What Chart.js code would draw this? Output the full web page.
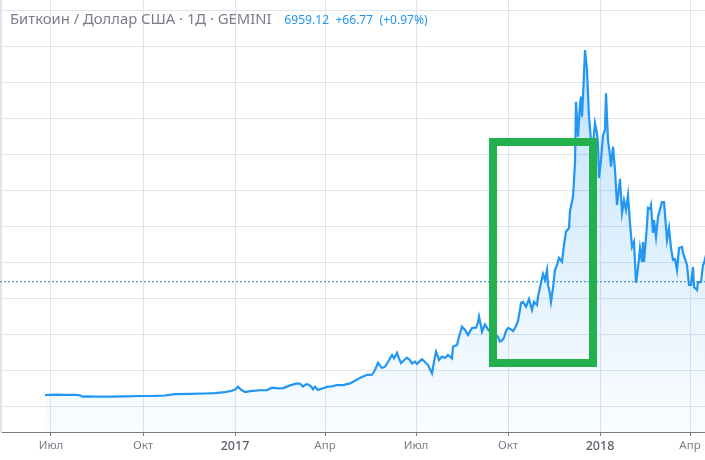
<!DOCTYPE html>
<html>
<head>
<meta charset="utf-8">
<style>
    body { margin: 0; background: #fff; }
    #wrap { position: relative; width: 705px; height: 460px; overflow: hidden; }
    #title { position: absolute; left: 10px; top: 8px; font: 14.8px "Noto Sans", sans-serif; color: #7b7e88; white-space: nowrap; }
    #quote { margin-left: 9px; font-size: 12.1px; color: #2196f3; }
</style>
</head>
<body>
<div id="wrap">
    <div id="title">Биткоин / Доллар США · 1Д · GEMINI <span id="quote">6959.12 &nbsp;+66.77 &nbsp;(+0.97%)</span></div>
    <canvas id="chart" width="705" height="460"></canvas>
</div>
<script src="https://cdn.jsdelivr.net/npm/chart.js@4"></script>
<script>
// days counted from 1 Jul 2016
const days = [
    -6, 4, 14, 24, 29, 32, 34, 44, 59, 74,
    89, 104, 114, 124, 139, 154, 164, 174, 181, 185,
    187, 190, 194, 199, 202, 209, 216, 221, 227, 232,
    239, 246, 249, 252, 255, 257, 260, 262, 264, 267,
    272, 277, 281, 286, 292, 299, 303, 306, 308, 312,
    316, 321, 324, 327, 329, 331, 334, 337, 341, 343,
    346, 348, 350, 353, 356, 359, 361, 364, 366, 369,
    371, 374, 377, 379, 381, 383, 385, 387, 388, 391,
    394, 397, 399, 401, 402, 404, 406, 408, 411, 414,
    417, 419, 421, 425, 427, 428, 430, 431, 434, 437,
    439, 443, 447, 449, 451, 453, 455, 457, 459, 462,
    465, 467, 469, 470, 472, 475, 478, 481, 483, 486,
    487, 490, 492, 494, 496, 497, 499, 500, 502, 504,
    506, 508, 511, 513, 515, 518, 519, 522, 524, 525,
    527, 529, 530, 531, 533, 534, 536, 538, 540, 541,
    544, 546, 547, 548, 550, 552, 554, 555, 557, 559,
    560, 562, 564, 566, 569, 571, 573, 575, 577,
    579, 581, 583, 585, 587, 589, 591, 592, 593, 596,
    597, 599, 600, 602, 603, 605, 607, 611, 613, 616,
    618, 620, 622, 624, 626, 628, 631, 632, 636, 638,
    640, 642, 643, 646, 647, 650, 652, 653, 655
];

const prices = [
    667, 690, 670, 680, 650, 560, 590, 580, 580, 590,
    610, 620, 640, 720, 730, 750, 770, 830, 900, 1000,
    1130, 960, 830, 880, 900, 930, 940, 1070, 1040, 1050,
    1200, 1310, 1290, 1130, 1260, 1260, 1150, 980, 1130, 950,
    1040, 1130, 1150, 1220, 1220, 1310, 1430, 1520, 1590, 1700,
    1780, 1790, 2050, 2460, 2300, 2170, 2240, 2500, 2890, 2700,
    3000, 2700, 2440, 2600, 2740, 2600, 2420, 2520, 2390, 2560,
    2650, 2500, 2330, 2100, 1870, 2500, 3070, 2800, 2610, 2800,
    2720, 2890, 2800, 2700, 3350, 3400, 3440, 3900, 4460, 4280,
    4000, 4200, 4390, 4410, 4700, 5020, 4500, 4180, 4590, 4300,
    4180, 4100, 3900, 3630, 3700, 3850, 4220, 4390, 4350, 4220,
    4500, 4780, 5400, 5780, 5850, 5570, 6000, 5390, 5850, 5670,
    6130, 6900, 7390, 7060, 7610, 6780, 6300, 5850, 6610, 7610,
    7900, 8280, 8070, 9000, 9740, 9940, 10890, 11680, 13550, 16960,
    15020, 16800, 17240, 16130, 18500, 19830, 18720, 16130, 14800, 13910,
    15760, 15200, 14670, 12720, 13720, 15110, 15400, 17430, 14830, 14000,
    13350, 14460, 13170, 11220, 12670, 10780, 11500, 10950, 11780,
    10220, 8890, 9170, 6890, 7720, 8830, 8060, 9170, 8060, 10110,
    11060, 11000, 11220, 9670, 10390, 9450, 10560, 11390, 11390, 9280,
    9950, 8830, 8170, 8220, 7610, 8830, 8890, 8560, 7890, 6780,
    6780, 7780, 6670, 6500, 6940, 6940, 7890, 8000, 8450
];

const tickDays = [0, 92, 184, 274, 365, 457, 549, 639];
const tickLabels = ['Июл', 'Окт', '2017', 'Апр', 'Июл', 'Окт', '2018', 'Апр'];
const yearLabels = ['2017', '2018'];
const priceGrid = [0, 2000, 4000, 6000, 8000, 10000, 12000, 14000, 16000, 18000, 20000, 22000];
const lastPrice = 6959.12;

// green marker drawn over the chart
const boxDays = [442, 542, 542, 442, 442];
const boxPrices = [14722, 14722, 2444, 2444, 14722];

const gridColor = '#e0e3eb';
const lineColor = '#2196f3';

new Chart(document.getElementById('chart'), {
    type: 'line',
    data: {
        datasets: [
            {
                data: boxDays.map((d, i) => ({ x: d, y: boxPrices[i] })),
                borderColor: '#22b14c',
                borderWidth: 8,
                borderJoinStyle: 'miter',
                borderCapStyle: 'square',
                pointRadius: 0,
                order: 0
            },
            {
                data: [{ x: -51, y: lastPrice }, { x: 654, y: lastPrice }],
                borderColor: '#2b7fc4',
                borderWidth: 1,
                borderDash: [2, 2],
                pointRadius: 0,
                order: 2
            },
            {
                data: days.map((d, i) => ({ x: d, y: prices[i] })),
                borderColor: lineColor,
                borderWidth: 2.2,
                pointRadius: 0,
                tension: 0,
                fill: 'start',
                backgroundColor: context => {
                    const area = context.chart.chartArea;
                    if (!area) return 'rgba(33,150,243,0.1)';
                    const gradient = context.chart.ctx.createLinearGradient(0, 50, 0, area.bottom);
                    gradient.addColorStop(0, 'rgba(33,150,243,0.28)');
                    gradient.addColorStop(1, 'rgba(33,150,243,0.02)');
                    return gradient;
                },
                order: 1
            }
        ]
    },
    options: {
        responsive: false,
        animation: false,
        layout: { padding: 0 },
        plugins: { legend: { display: false }, tooltip: { enabled: false } },
        scales: {
            x: {
                type: 'linear',
                min: -51,
                max: 654,
                afterBuildTicks: axis => { axis.ticks = tickDays.map(value => ({ value })); },
                afterFit: axis => { axis.height = 28; },
                border: { color: '#787b86', width: 1 },
                grid: { color: gridColor, tickColor: '#787b86', tickLength: 4 },
                ticks: {
                    maxRotation: 0,
                    autoSkip: false,
                    padding: 3,
                    callback: value => tickLabels[tickDays.indexOf(value)],
                    color: context => yearLabels.includes(tickLabels[context.index]) ? '#5d606b' : '#7b7e88',
                    font: context => ({
                        family: '"Noto Sans", sans-serif',
                        size: yearLabels.includes(tickLabels[context.index]) ? 12.5 : 11.5,
                        weight: yearLabels.includes(tickLabels[context.index]) ? '500' : '400'
                    })
                }
            },
            y: {
                type: 'linear',
                min: -1389,
                max: 22611,
                afterBuildTicks: axis => { axis.ticks = priceGrid.map(value => ({ value })); },
                afterFit: axis => { axis.width = 0; },
                border: { color: gridColor, width: 3 },
                grid: { color: gridColor, tickLength: 0 },
                ticks: { display: false }
            }
        }
    }
});
</script>
</body>
</html>
